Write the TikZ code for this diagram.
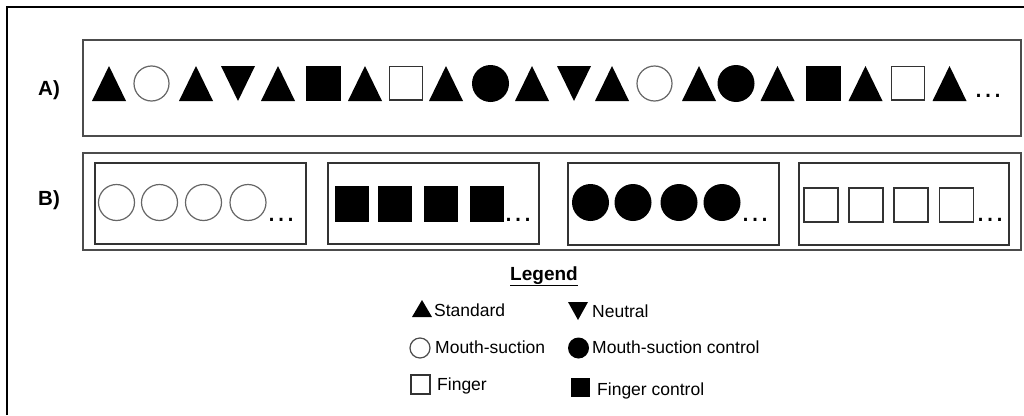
\documentclass[tikz,border=0pt]{standalone}
\usepackage{fontspec}
\setmainfont{Liberation Sans}
\newcommand\Aup[1]{\fill (#1-17,101) -- (#1+17,101) -- (#1,66) -- cycle;}
\newcommand\Adn[1]{\fill (#1-17,66) -- (#1+17,66) -- (#1,101) -- cycle;}
\newcommand\Aoc[1]{\draw[opencirc] (#1,83.5) circle[radius=17.5pt];}
\newcommand\Afc[1]{\fill (#1,83.5) circle[radius=18.5pt];}
\newcommand\Afs[1]{\fill (#1-17.5,66) rectangle (#1+17.5,100.5);}
\newcommand\Aos[1]{\draw[opensq] (#1-16.5,66.5) rectangle (#1+16.5,100);}
\tikzset{
  frame/.style={draw=black, line width=2.2pt},
  panel/.style={draw=black!70, line width=1.5pt},
  subpanel/.style={draw=black!80, line width=1.4pt},
  opencirc/.style={draw=black!60, line width=1.2pt},
  opensq/.style={draw=black!80, line width=1.4pt},
  lbl/.style={font=\fontsize{17.5}{20}\selectfont, anchor=base west, inner sep=0pt},
  rowlbl/.style={font=\fontsize{20.5}{24}\selectfont\bfseries, anchor=base west, inner sep=0pt},
  dots/.style={font=\fontsize{30}{32}\selectfont, anchor=base, inner sep=0pt},
}
\begin{document}
\begin{tikzpicture}[x=1pt,y=-1pt]
\useasboundingbox (0,0) rectangle (1024,415);
\fill[white] (0,0) rectangle (1024,415);
% outer frame (right and bottom edges lie outside the picture)
\draw[frame] (7,415) -- (7,7) -- (1024,7);

% panel A
\node[rowlbl] (la) at (38,95) {A)};
\draw[panel] (83,40) rectangle (1021,136);
\Aup{109} \Aoc{151.5} \Aup{196} \Adn{238} \Aup{278} \Afs{323} \Aup{365} \Aos{406}
\Aup{446} \Afc{490.5} \Aup{532} \Adn{574} \Aup{612} \Aoc{654.5} \Aup{699} \Afc{736}
\Aup{777.5} \Afs{823.5} \Aup{865.5} \Aos{908} \Aup{949.5}
\node[dots] (da) at (988,97.5) {…};

% panel B
\node[rowlbl] (lb) at (38,205) {B)};
\draw[panel] (83,153) rectangle (1021,250);
\draw[subpanel] (95,163) rectangle (306,244);
\draw[subpanel] (328,163) rectangle (539,244);
\draw[subpanel] (568,163) rectangle (779,245);
\draw[subpanel] (799,163) rectangle (1009,245);
\foreach \x in {116.5,159.5,203.5,248} \draw[opencirc] (\x,202.5) circle[radius=18pt];
\foreach \x in {352,395,441,486.5} \fill (\x-17,186) rectangle (\x+17,222);
\foreach \x in {590.5,633,679,722} \fill (\x,202.5) circle[radius=18.5pt];
\foreach \x in {821,866,911,956.5} \draw[opensq] (\x-17,188) rectangle (\x+17,222);
\node[dots] (d1) at (281,221) {…};
\node[dots] (d2) at (518,221) {…};
\node[dots] (d3) at (755,221) {…};
\node[dots] (d4) at (990,221) {…};

% legend
\node[font=\fontsize{19}{22}\selectfont\bfseries, anchor=base, inner sep=0pt] (leg) at (544,280) {\underline{Legend}};
\fill (412,317) -- (432,317) -- (422,300) -- cycle;
\node[lbl] (t1) at (434,316) {Standard};
\fill (568,302) -- (588,302) -- (578,320) -- cycle;
\node[lbl] (t2) at (592,317) {Neutral};
\draw[opencirc, draw=black!70] (420,348) circle[radius=10pt];
\node[lbl] (t3) at (435,353) {Mouth-suction};
\fill (578.5,348) circle[radius=10.5pt];
\node[lbl] (t4) at (592,353) {Mouth-suction control};
\draw[opensq] (411,375) rectangle (430,394);
\node[lbl] (t5) at (437,390) {Finger};
\fill (571,378) rectangle (590,397);
\node[lbl] (t6) at (597,395) {Finger control};
\end{tikzpicture}
\end{document}
